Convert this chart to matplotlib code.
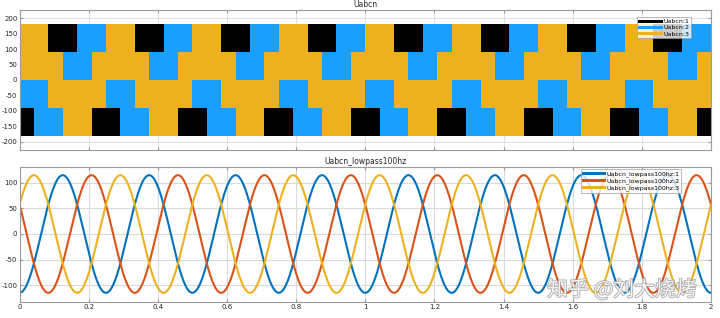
import numpy as np
import matplotlib
matplotlib.use("Agg")
import matplotlib.pyplot as plt
import matplotlib.patheffects as pe

plt.rcParams["axes.unicode_minus"] = False

# ---------------- data ----------------
# Top: PWM phase voltages, band (min, max) per 60-degree sector, one electrical period (6 sectors)
sector_len = 0.25 / 6          # s, period 0.25 s
n_periods = 8
u1_low = [-180, -90, 0, 0, -90, -180]
u1_high = [0, 90, 180, 180, 90, 0]
u2_low = [-90, -180, -180, -90, 0, 0]
u2_high = [90, 0, 0, 90, 180, 180]
u3_low = [0, 0, -90, -180, -180, -90]
u3_high = [180, 180, 90, 0, 0, 90]
top_labels = ["Uabcn:1", "Uabcn:2", "Uabcn:3"]
top_colors = ["#000000", "#1A9FFF", "#EDB120"]

# Bottom: filtered phase voltages (read: amplitude, frequency, time of first peak)
amp = 115.0
freq = 4.0
peak_times = [0.125, 0.2083, 0.0417]
start_values = [0.0, 50.0, 0.0]
bot_labels = ["Uabcn_lowpass100hz:1", "Uabcn_lowpass100hz:2", "Uabcn_lowpass100hz:3"]
bot_colors = ["#0072BD", "#D95319", "#EDB120"]

x_ticks = [0, 0.2, 0.4, 0.6, 0.8, 1, 1.2, 1.4, 1.6, 1.8, 2]
top_yticks = [-200, -150, -100, -50, 0, 50, 100, 150, 200]
bot_yticks = [-100, -50, 0, 50, 100]

# ---------------- figure ----------------
fig = plt.figure(figsize=(7.2, 3.18), dpi=100)
fig.patch.set_facecolor("white")
W, H = 720, 318
ax1 = fig.add_axes([19.5 / W, 1 - 150 / H, (711 - 19.5) / W, 140 / H])
ax2 = fig.add_axes([19.5 / W, 1 - 301.5 / H, (711 - 19.5) / W, 135 / H])

edges = np.arange(6 * n_periods + 1) * sector_len
for low, high, col in zip([u1_low, u2_low, u3_low], [u1_high, u2_high, u3_high], top_colors):
    lo = np.array(low * n_periods + [low[0]], dtype=float)
    hi = np.array(high * n_periods + [high[0]], dtype=float)
    ax1.fill_between(edges, lo, hi, step="post", color=col, linewidth=0)
handles = [ax1.plot([], [], color=c, lw=2.2, label=l)[0] for c, l in zip(top_colors, top_labels)]

t = np.linspace(0, 2, 4001)
for pk, sv, col, lab in zip(peak_times, start_values, bot_colors, bot_labels):
    y = amp * np.cos(2 * np.pi * freq * (t - pk))
    y[0] = sv
    ax2.plot(t, y, color=col, lw=1.5, label=lab)

for ax in (ax1, ax2):
    ax.set_xlim(0, 2)
    ax.set_xticks(x_ticks)
    for s in ax.spines.values():
        s.set_color("#9A9A9A")
        s.set_linewidth(0.8)
    ax.tick_params(direction="in", length=2.5, color="#9A9A9A", labelsize=5,
                   labelcolor="#262626", pad=1.5, top=True, right=True)

ax1.set_ylim(-226, 226)
ax1.set_yticks(top_yticks)
ax1.set_xticklabels([])
ax1.set_title("Uabcn", fontsize=5.5, pad=2, color="#262626")
ax1.grid(True, color="#E0E0E0", linewidth=0.8)
ax1.set_axisbelow(True)

ax2.set_ylim(-132, 132)
ax2.set_yticks(bot_yticks)
ax2.set_xticklabels([("%g" % v) for v in x_ticks])
ax2.set_title("Uabcn_lowpass100hz", fontsize=5.5, pad=2, color="#262626")
ax2.grid(True, color="#DADADA", linewidth=0.8)
ax2.set_axisbelow(True)

leg1 = ax1.legend(handles=handles, loc="upper right", fontsize=4.5, frameon=True,
                  bbox_to_anchor=(0.971, 0.952), borderaxespad=0, handlelength=3.5,
                  handletextpad=0.3, labelspacing=0.15, borderpad=0.3, fancybox=False)
leg1.get_frame().set_edgecolor("#9A9A9A")
leg1.get_frame().set_linewidth(0.6)
leg2 = ax2.legend(loc="upper right", fontsize=4.5, frameon=True,
                  bbox_to_anchor=(0.957, 0.981), borderaxespad=0, handlelength=3.4,
                  handletextpad=0.3, labelspacing=0.15, borderpad=0.3, fancybox=False)
leg2.get_frame().set_edgecolor("#9A9A9A")
leg2.get_frame().set_linewidth(0.6)
for line in leg2.get_lines():
    line.set_linewidth(2.2)

fig.text(622 / W, 1 - 290 / H, "知乎 @刘大烧烤", fontsize=15, ha="center", va="center",
         color="white", alpha=0.85, family=["Noto Sans CJK SC", "DejaVu Sans"],
         path_effects=[pe.withStroke(linewidth=1.2, foreground="#A0A0A0")])

fig.savefig("out.png", dpi=100, facecolor="white")
